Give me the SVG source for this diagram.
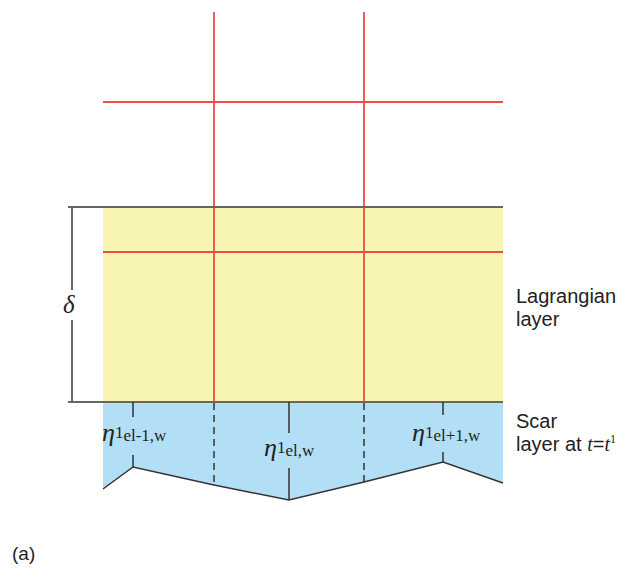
<svg xmlns="http://www.w3.org/2000/svg" width="626" height="573" viewBox="0 0 626 573">
<style>
.red{stroke:#f24a4a;stroke-width:1.8;fill:none}
.blk{stroke:#333;stroke-width:1.5;fill:none}
.gry{stroke:#666;stroke-width:2;fill:none}
.dash{stroke:#333;stroke-width:1.5;stroke-dasharray:7,5;fill:none}
.sans{font-family:"Liberation Sans",Arial,sans-serif;fill:#222}
.ser{font-family:"Liberation Serif","Times New Roman",serif;fill:#222}
</style>
<g id="lagrangian-layer">
<rect x="103" y="207" width="400" height="195" fill="#f8f5b3"/>
</g>
<g id="scar-layer">
<polygon points="103,402 503,402 503,483 443,462 364,482 289,500 214,485 133,467 103,489" fill="#b2dff6"/>
</g>
<g id="grid">
<line class="red" x1="214" y1="12" x2="214" y2="402"/>
<line class="red" x1="364" y1="12" x2="364" y2="402"/>
<line class="red" x1="103" y1="102" x2="503" y2="102"/>
<line class="red" x1="103" y1="252" x2="503" y2="252"/>
</g>
<g id="connectors">
<line class="gry" x1="68" y1="207" x2="503" y2="207"/>
<line class="gry" x1="68" y1="402" x2="503" y2="402" stroke-width="1.5"/>
<line class="gry" x1="72" y1="207" x2="72" y2="290"/>
<line class="gry" x1="72" y1="320" x2="72" y2="402"/>
<polyline class="blk" points="103,489 133,467 214,485 289,500 364,482 443,462 503,483"/>
<line class="dash" x1="214" y1="403" x2="214" y2="485"/>
<line class="dash" x1="364" y1="403" x2="364" y2="482"/>
<line class="blk" x1="133" y1="402" x2="133" y2="417"/>
<line class="blk" x1="133" y1="455" x2="133" y2="467"/>
<line class="blk" x1="289" y1="402" x2="289" y2="433"/>
<line class="blk" x1="289" y1="468" x2="289" y2="500"/>
<line class="blk" x1="443" y1="402" x2="443" y2="415"/>
<line class="blk" x1="443" y1="452" x2="443" y2="462"/>
</g>
<g id="labels">
<text class="ser" x="63" y="313" font-size="25" font-style="italic">δ</text>
<text class="ser" x="102" y="441" font-size="26"><tspan font-style="italic">η</tspan><tspan font-size="17" dy="-3">1</tspan><tspan font-size="17" dy="3">el-1,w</tspan></text>
<text class="ser" x="264" y="456" font-size="26"><tspan font-style="italic">η</tspan><tspan font-size="17" dy="-3">1</tspan><tspan font-size="17" dy="3">el,w</tspan></text>
<text class="ser" x="412" y="441" font-size="26"><tspan font-style="italic">η</tspan><tspan font-size="17" dy="-3">1</tspan><tspan font-size="17" dy="3">el+1,w</tspan></text>
<text class="sans" x="516" y="303" font-size="20">Lagrangian</text>
<text class="sans" x="516" y="326" font-size="20">layer</text>
<text class="sans" x="516" y="428" font-size="20">Scar</text>
<text class="sans" x="516" y="451" font-size="20">layer at <tspan class="ser" font-style="italic">t</tspan>=<tspan class="ser" font-style="italic">t</tspan><tspan class="ser" font-size="12" dy="-8">1</tspan></text>
<text class="sans" x="12" y="560" font-size="19">(a)</text>
</g>
</svg>
